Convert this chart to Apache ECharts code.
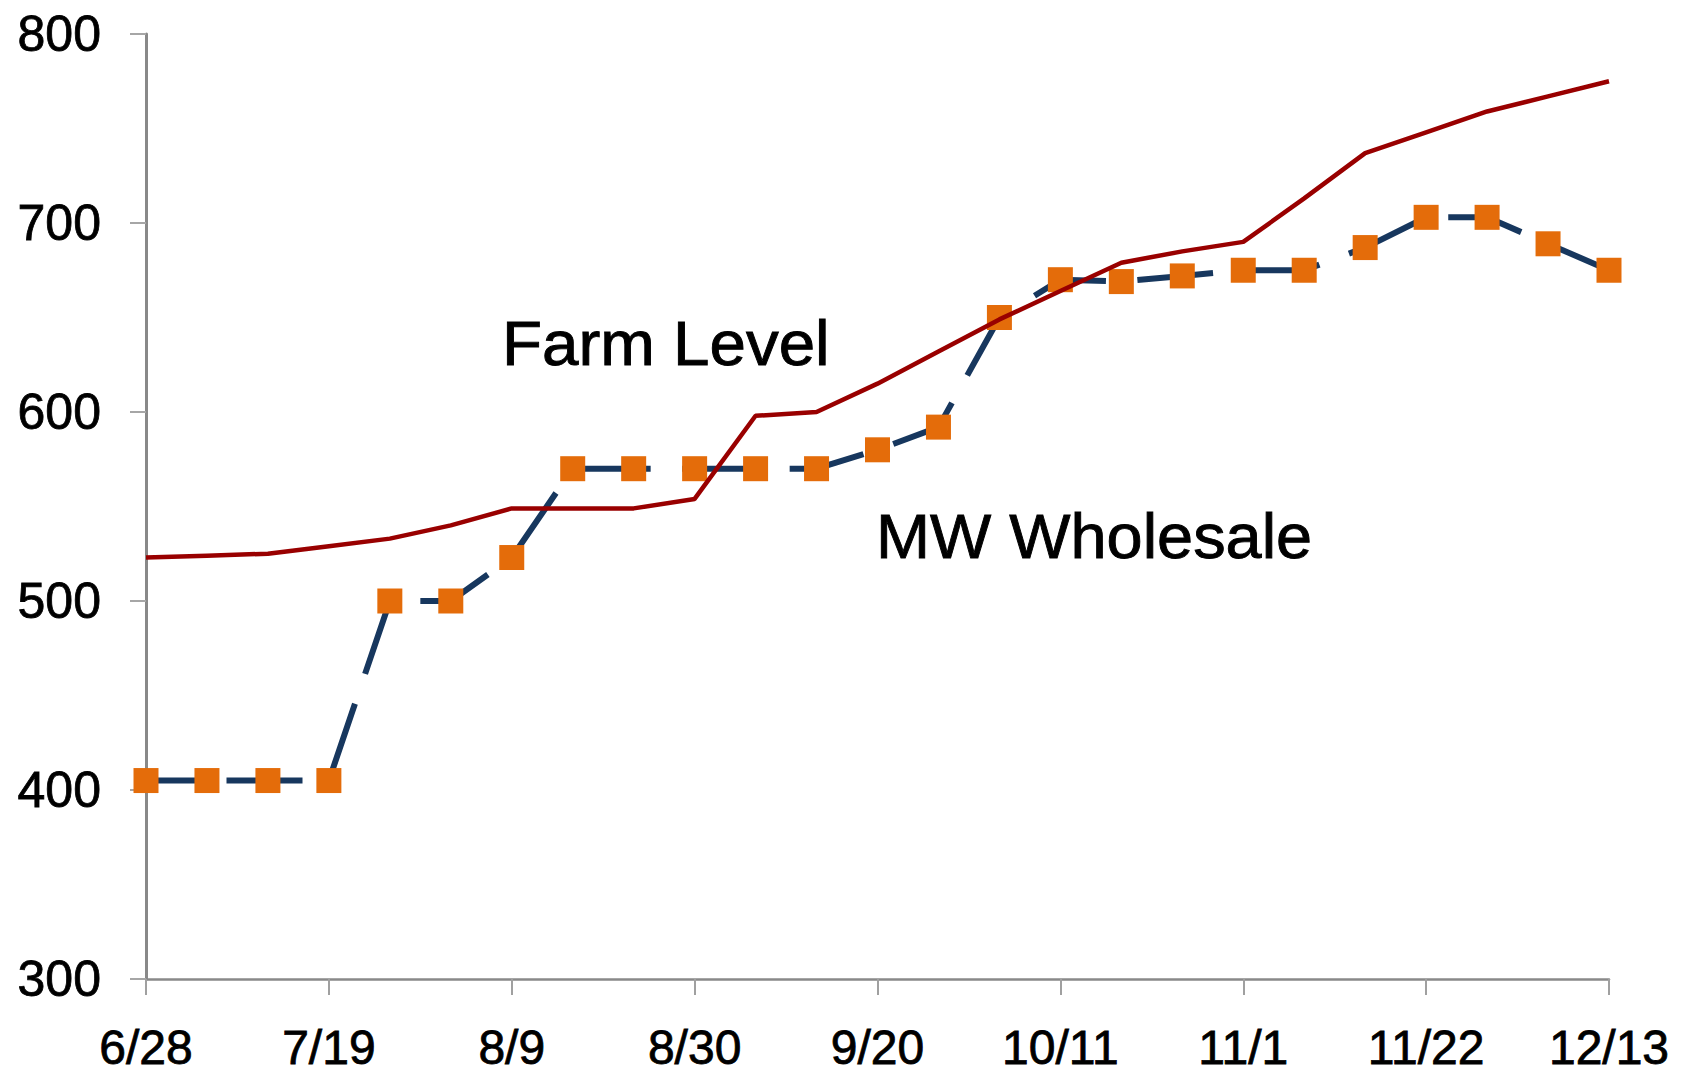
<!DOCTYPE html>
<html>
<head>
<meta charset="utf-8">
<script src="https://cdn.jsdelivr.net/npm/echarts@6/dist/echarts.min.js"></script>
<style>
html,body{margin:0;padding:0;background:#fff;}
#chart{width:1683px;height:1074px;}
</style>
</head>
<body>
<div id="chart"></div>
<script>
const categories = ['6/28','7/5','7/12','7/19','7/26','8/2','8/9','8/16','8/23','8/30','9/6','9/13','9/20','9/27','10/4','10/11','10/18','10/25','11/1','11/8','11/15','11/22','11/29','12/6','12/13'];
const farmLevel = [523,524,525,529,533,540,549,549,549,554,598,600,615,632,649,664,679,685,690,713,737,748,759,767,775];
const mwWholesale = [405,405,405,405,500,500,523,570,570,570,570,570,580,592,650,670,669,672,675,675,687,703,703,689,675];
const yMin = 300, yMax = 800, yStep = 100;
const farmName = 'Farm Level';
const mwName = 'MW Wholesale';

const FONT = "'Liberation Sans', Arial, sans-serif";
const chart = echarts.init(document.getElementById('chart'), null, {renderer: 'svg'});
chart.setOption({
  animation: false,
  backgroundColor: '#ffffff',
  grid: {left: 146, right: 74, top: 34, bottom: 95, containLabel: false, outerBoundsMode: 'none'},
  xAxis: {
    type: 'category',
    data: categories,
    boundaryGap: false,
    axisLine: {lineStyle: {color: '#898989', width: 2.5}},
    axisTick: {show: true, interval: 2, length: 16, inside: false, lineStyle: {color: '#a0a0a0', width: 2}},
    axisLabel: {interval: 2, margin: 48, fontSize: 48, lineHeight: 40, color: '#000', fontFamily: FONT,
      textBorderColor: '#000', textBorderWidth: 0.8},
    splitLine: {show: false}
  },
  yAxis: {
    type: 'value',
    min: yMin, max: yMax, interval: yStep,
    axisLine: {show: true, lineStyle: {color: '#898989', width: 3}},
    axisTick: {show: true, length: 16, lineStyle: {color: '#a6a6a6', width: 2}},
    axisLabel: {margin: 45, fontSize: 50, color: '#000', fontFamily: FONT,
      textBorderColor: '#000', textBorderWidth: 0.8},
    splitLine: {show: false}
  },
  series: [
    {
      name: mwName,
      type: 'line',
      data: mwWholesale,
      z: 2,
      symbol: 'rect',
      symbolSize: 25,
      showAllSymbol: true,
      itemStyle: {color: '#E46C0A'},
      lineStyle: {color: '#17375E', width: 6, type: [76, 31.5], dashOffset: 27, cap: 'butt'}
    },
    {
      name: farmName,
      type: 'line',
      data: farmLevel,
      z: 3,
      symbol: 'none',
      lineStyle: {color: '#990000', width: 4.5}
    }
  ],
  graphic: [
    {type: 'text', x: 502, y: 312, z: 10, scaleX: 1.04,
      style: {text: farmName, font: "63px 'Liberation Sans', Arial, sans-serif", fill: '#000',
        stroke: '#000', lineWidth: 0.9, verticalAlign: 'top'}},
    {type: 'text', x: 876, y: 505, z: 10, scaleX: 1.03,
      style: {text: mwName, font: "63px 'Liberation Sans', Arial, sans-serif", fill: '#000',
        stroke: '#000', lineWidth: 0.9, verticalAlign: 'top'}}
  ]
});
</script>
</body>
</html>
